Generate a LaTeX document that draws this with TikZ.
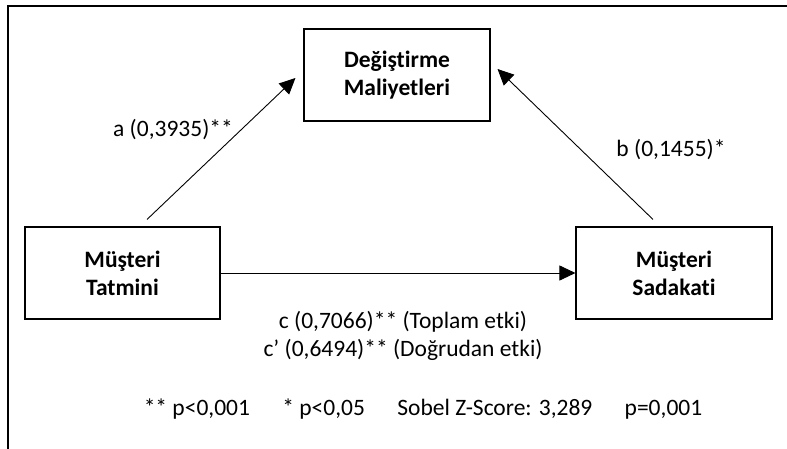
\documentclass[tikz,border=0pt]{standalone}
\usepackage{fontspec}
\setmainfont{Carlito}[Ligatures=NoCommon]
\usetikzlibrary{arrows.meta}

\tikzset{
  var/.style={draw, line width=1.1pt, minimum height=92pt, align=center,
    font=\fontsize{23.5}{28}\selectfont\bfseries, inner sep=0pt},
  lbl/.style={font=\fontsize{23.5}{28}\selectfont, align=center, inner sep=0pt},
  path arrow/.style={line width=0.9pt, -{Triangle[length=16pt,width=15pt]}},
}

\begin{document}
\begin{tikzpicture}[x=1pt, y=-1pt]
  \useasboundingbox (0,0) rectangle (787,448);
  \clip (0,0) rectangle (787,448);

  % outer frame
  \draw[line width=1.8pt] (8,6) rectangle (820,480);

  % variables
  \node[var, minimum width=186pt] (deg) at (397,75) {Değiştirme\\Maliyetleri};
  \node[var, minimum width=195pt] (tat) at (122.5,273) {Müşteri\\Tatmini};
  \node[var, minimum width=196pt] (sad) at (674,273) {Müşteri\\Sadakati};

  % arrow end points, slightly off the boxes
  \coordinate (a1) at ([xshift=24.5pt, yshift=7pt]tat.north);
  \coordinate (a2) at ([xshift=-8pt, yshift=-3pt]deg.west);
  \coordinate (b1) at ([xshift=-21pt, yshift=7pt]sad.north);
  \coordinate (b2) at ([xshift=7pt, yshift=6pt]deg.east);

  \draw[path arrow] (a1) -- (a2);
  \draw[path arrow] (b1) -- (b2);
  \draw[path arrow] (tat.east) -- (sad.west);

  % coefficients
  \node[lbl] (la) at (173,130) {a (0,3935)**};
  \node[lbl] (lb) at (671,150) {b (0,1455)*};
  \node[lbl] (lc) at (403,336) {c (0,7066)** (Toplam etki)\\c’ (0,6494)** (Doğrudan etki)};
  \node[lbl] (note) at (423,409) {** p<0,001\hspace{27pt} * p<0,05\hspace{27pt} Sobel Z-Score: 3,289\hspace{27pt} p=0,001};
\end{tikzpicture}
\end{document}
